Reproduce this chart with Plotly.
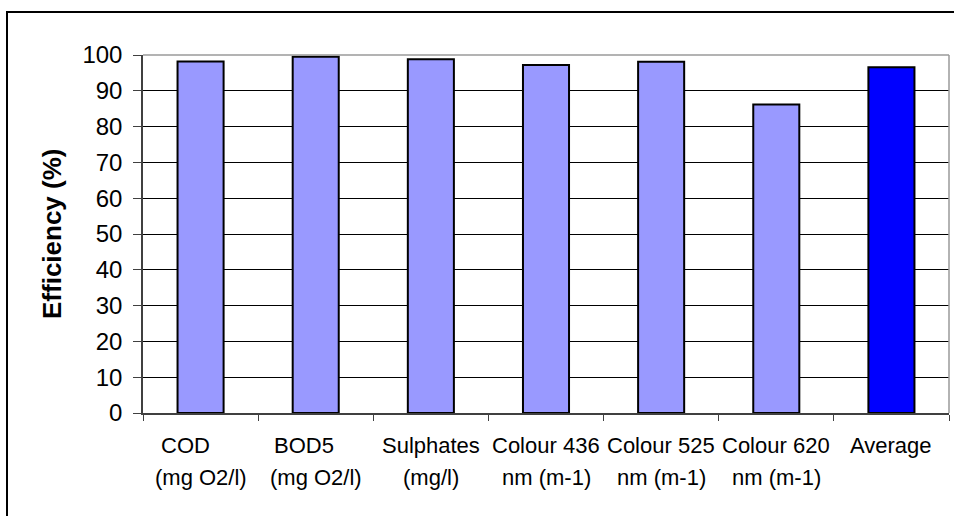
import plotly.graph_objects as go

NB = "\u00a0"
categories = ["COD", "BOD5", "Sulphates", "Colour 436", "Colour 525", "Colour 620", "Average"]
label_line1 = ["COD" + NB * 5, "BOD5" + NB * 4, "Sulphates", "Colour 436", "Colour 525", "Colour 620", "Average"]
label_line2 = ["(mg O2/l)", "(mg O2/l)", "(mg/l)", "nm (m-1)", "nm (m-1)", "nm (m-1)", ""]
efficiency = [98.2, 99.5, 98.8, 97.2, 98.1, 86.2, 96.6]
bar_colors = ["#9999FF"] * 6 + ["#0000FF"]
y_ticks = list(range(0, 101, 10))

W, H = 954, 516
L, R, T, B = 143, 5, 55, 103
pw, ph = W - L - R, H - T - B

fig = go.Figure()
fig.add_trace(go.Bar(
    x=categories, y=efficiency,
    marker=dict(color=bar_colors, line=dict(color="black", width=2)),
    hoverinfo="x+y",
))

annotations = []
for c, l1, l2 in zip(categories, label_line1, label_line2):
    annotations.append(dict(x=c, y=0, xref="x", yref="paper", text=l1, showarrow=False,
                            xanchor="center", yanchor="middle", yshift=-32,
                            font=dict(family="Liberation Sans, Arial", size=22, color="black")))
    if l2:
        annotations.append(dict(x=c, y=0, xref="x", yref="paper", text=l2, showarrow=False,
                                xanchor="center", yanchor="middle", yshift=-64,
                                font=dict(family="Liberation Sans, Arial", size=22, color="black")))
annotations.append(dict(x=(52 - L) / pw, y=0.5, xref="paper", yref="paper", text="<b>Efficiency (%)</b>",
                        textangle=-90, showarrow=False, xanchor="center", yanchor="middle",
                        font=dict(family="Liberation Sans, Arial", size=26, color="black")))

shapes = [
    dict(type="line", xref="paper", yref="paper", x0=0, x1=1, y0=1, y1=1,
         line=dict(color="#9a9a9a", width=1.5), layer="above"),
    dict(type="line", xref="paper", yref="paper", x0=1, x1=1, y0=0, y1=1,
         line=dict(color="#9a9a9a", width=1.5), layer="above"),
    dict(type="rect", xref="paper", yref="paper",
         x0=(7 - L) / pw, x1=(W + 20 - L) / pw,
         y0=-(H + 20 - (T + ph)) / ph, y1=(T + ph - 12) / ph,
         line=dict(color="black", width=2), layer="above"),
]

fig.update_layout(
    width=W, height=H,
    margin=dict(l=L, r=R, t=T, b=B, pad=0),
    paper_bgcolor="white", plot_bgcolor="white",
    bargap=0.6,
    showlegend=False,
    font=dict(family="Liberation Sans, Arial", size=22, color="black"),
    xaxis=dict(showticklabels=False, ticks="outside", tickson="boundaries", ticklen=6,
               tickcolor="#404040", showline=True, linecolor="#404040", linewidth=1.5,
               showgrid=False, zeroline=False),
    yaxis=dict(range=[0, 100], tickvals=y_ticks, ticks="outside", ticklen=8, tickcolor="#404040",
               showline=True, linecolor="#404040", linewidth=1.5,
               showgrid=True, gridcolor="black", gridwidth=1, zeroline=False,
               ticklabelstandoff=6,
               tickfont=dict(size=24, color="black")),
    annotations=annotations,
    shapes=shapes,
)

fig.write_html("out.html")
